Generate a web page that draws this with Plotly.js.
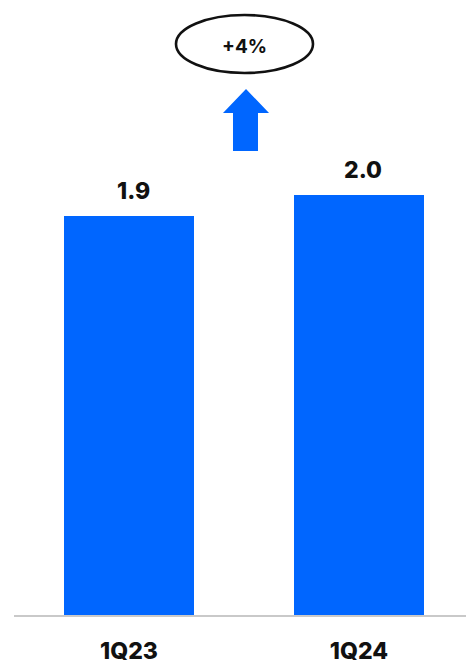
<!DOCTYPE html>
<html>
<head>
<meta charset="utf-8">
<script src="https://cdn.plot.ly/plotly-3.0.1.min.js"></script>
<style>
  html, body { margin: 0; padding: 0; background: #ffffff; }
  #chart { width: 466px; height: 666px; }
</style>
</head>
<body>
<div id="chart"></div>
<script>
// Quarterly values
const categories = ['1Q23', '1Q24'];
const values = [1.9, 2.0];
const valueLabels = ['1.9', '2.0'];
const growthLabel = '+4%';

const W = 466, H = 666;
const margin = { l: 14, r: 0, t: 0, b: 51 };
const plotW = W - margin.l - margin.r;
const plotH = H - margin.t - margin.b;

// pixel position on the page -> paper fraction
const px = x => (x - margin.l) / plotW;
const py = y => 1 - (y - margin.t) / plotH;

const FONT = 'Inter, "DejaVu Sans", sans-serif';
const BLUE = '#0066ff';
const INK = '#111111';

const bars = {
  type: 'bar',
  x: categories,
  y: values,
  width: 0.565,
  marker: { color: BLUE, line: { width: 0 } },
  hoverinfo: 'skip'
};

const valueAnnotations = categories.map((c, i) => ({
  x: c, y: values[i], xref: 'x', yref: 'y',
  text: valueLabels[i],
  showarrow: false, yanchor: 'bottom', yshift: 9, xshift: 4,
  font: { family: FONT, size: 23, color: INK, weight: 800 }
}));

// up arrow between the ellipse and the bars
const arrowPath = [
  ['M', 246, 89], ['L', 269, 113], ['L', 258, 113], ['L', 258, 151],
  ['L', 233, 151], ['L', 233, 113], ['L', 223, 113]
].map(p => p[0] + ' ' + px(p[1]).toFixed(4) + ',' + py(p[2]).toFixed(4)).join(' ') + ' Z';

const layout = {
  width: W, height: H,
  margin: margin,
  paper_bgcolor: '#ffffff',
  plot_bgcolor: '#ffffff',
  showlegend: false,
  bargap: 0,
  xaxis: {
    type: 'category',
    range: [-0.5, -0.5 + plotW / 230],
    showgrid: false, zeroline: false,
    showline: true, linecolor: '#c9c9c9', linewidth: 1.5,
    ticks: '', ticklabelstandoff: 15,
    tickfont: { family: FONT, size: 23, color: INK, weight: 800 }
  },
  yaxis: {
    range: [0, plotH / 210],
    showgrid: false, zeroline: false, showline: false,
    showticklabels: false, ticks: ''
  },
  shapes: [
    {
      type: 'circle', xref: 'paper', yref: 'paper',
      x0: px(176), x1: px(313), y0: py(73), y1: py(15),
      line: { color: INK, width: 2.6 }, fillcolor: 'rgba(0,0,0,0)'
    },
    {
      type: 'path', xref: 'paper', yref: 'paper',
      path: arrowPath, fillcolor: BLUE, line: { width: 0 }
    }
  ],
  annotations: valueAnnotations.concat([{
    xref: 'paper', yref: 'paper', x: px(245), y: py(46),
    text: '<b>' + growthLabel + '</b>', showarrow: false,
    xanchor: 'center', yanchor: 'middle',
    font: { family: FONT, size: 19, color: INK, weight: 800 }
  }])
};

Plotly.newPlot('chart', [bars], layout, { displayModeBar: false, staticPlot: true });
</script>
</body>
</html>
